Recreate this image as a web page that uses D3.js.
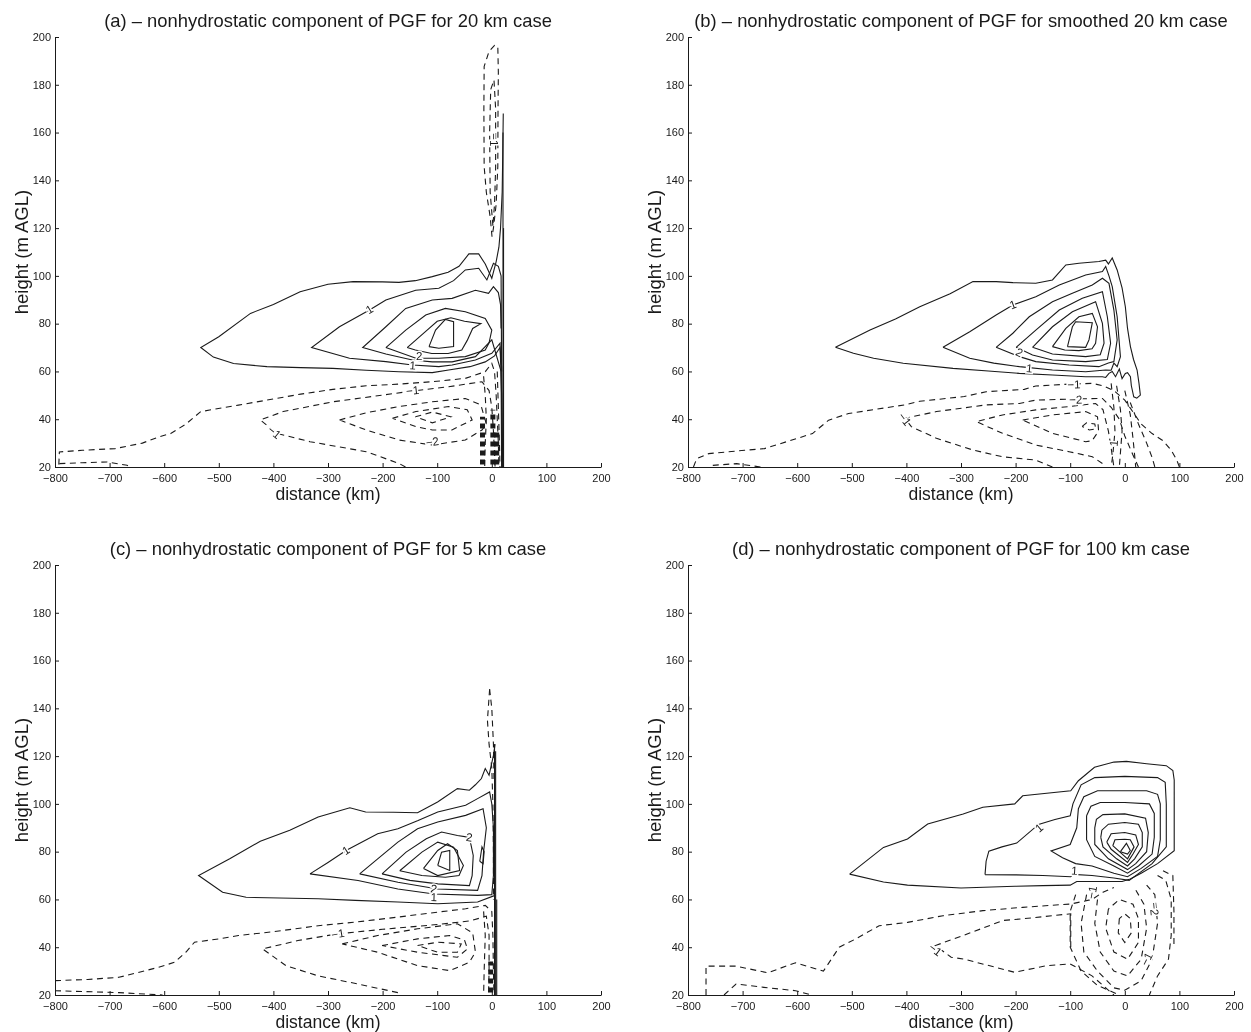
<!DOCTYPE html>
<html><head><meta charset="utf-8">
<script src="https://cdn.jsdelivr.net/npm/d3@7"></script>
<style>
body{margin:0;background:#fff;}
svg{display:block;font-family:"Liberation Sans",Arial,Helvetica,sans-serif;filter:grayscale(1);}
</style></head><body><svg id="fig" width="1251" height="1032"></svg>
<script>
// axis ticks shared by the four panels
const X_TICKS = [-800,-700,-600,-500,-400,-300,-200,-100,0,100,200];
const Y_TICKS = [20,40,60,80,100,120,140,160,180,200];

// ---------- (a) 20 km case : contours of the nonhydrostatic PGF ----------
const A_solid = [
  [[20,20],[19,40],[18,62],[15,70],[5,66.5],[-12,64],[-40,62],[-79,60.6],[-109,59.5],[-170,59.9],[-230,60.5],[-291,61.3],[-350,61.6],[-412,62],[-473,63.3],[-510,66],[-533,70],[-500,74.5],[-442,84.3],[-400,88],[-351,93.4],[-300,96.5],[-254,97.6],[-200,97.5],[-170,97.3],[-140,98],[-109,99.7],[-80,101.5],[-60,104],[-42,109.2],[-24,109.2],[-12,105],[0,99],[8,106],[13,112],[16,120],[19,135],[20,150],[21,168]],
  [[19,20],[18,50],[15,71.8],[0,67.6],[-30,64.8],[-72.7,62.7],[-97,62],[-145.5,62.7],[-194,64.1],[-260.6,65.5],[-330,70],[-279,78.7],[-224,85.7],[-194,89.9],[-139.4,94],[-97,94.8],[-70,98],[-48.5,102.5],[-24,103.2],[-9,98.3],[3,105.3],[12,104],[17,100],[18,60]],
  [[18,20],[17,60],[0,73.2],[-30,66.2],[-72.7,64],[-109,64],[-145.5,64.8],[-194,67.3],[-236.4,70],[-194,78.7],[-157.6,86.4],[-109,89.9],[-72.7,90.6],[-30,94],[-6,92.7],[3,95.5],[12,93],[16,88],[17,78]],
  [[-194,70],[-157.6,77.3],[-121,83.6],[-85,86.4],[-48.5,85],[-12,82.2],[0,77.3],[-5,72],[-12,69],[-48.5,66.2],[-97,65.5],[-139,65.5],[-194,70]],
  [[-155,70],[-120,77],[-100,81],[-75,82.5],[-50,81],[-20,80],[-35,78],[-45,73],[-55,69],[-80,67.5],[-110,67.5],[-140,69],[-155,70]],
  [[-115,70.4],[-103,77.3],[-85,81.8],[-70,80.8],[-70,70.4],[-97,69.7],[-115,70.4]],
  [[20.5,20],[20.5,160]],
  [[21.5,20],[21.5,120]]
];
const A_dashed = [
  [[-792,21.4],[-750,21.8],[-705,22.1],[-668,20.7],[-660,20]],
  [[-793,21],[-792,26.3],[-750,27],[-690,27.7],[-640,30],[-610,32.6],[-588,34],[-560,38],[-533,43.2],[-464,45.9],[-412,48],[-350,50.5],[-291,52.5],[-230,54],[-170,54.7],[-109,55.7],[-48.5,57.1],[-12,59.9],[0,63.4],[5,60],[8,50],[10,40],[12,30],[13,20]],
  [[-158,20],[-170,21.5],[-230,26.4],[-333,30.6],[-394,34.1],[-424,39.7],[-382,43.2],[-291,47.3],[-200,50.1],[-145.5,51.8],[-79,53.6],[-18,55.7],[-5,52],[0,45],[3,35],[5,25],[6,20]],
  [[-279,39.7],[-230,42.7],[-170,45.3],[-109,47.3],[-48.5,48.7],[-20,46],[-10,38],[-18,35.5],[-48.5,31.3],[-109,29.2],[-170,31.3],[-230,35.5],[-279,39.7]],
  [[-182,40.4],[-139,43.2],[-79,45.3],[-45,44],[-36,39.7],[-73,35.5],[-109,35.5],[-139,36.9],[-182,40.4]],
  [[-140,41],[-109,43],[-75,41],[-109,38.5],[-140,41]],
  [[-15,58],[-12,50],[-10,40],[-12,30],[-13,20]],
  [[10,60],[12,45],[14,30],[15,20]],
  [[0.4,116.4],[-3,124.8],[-10,135],[-14,145.8],[-14.5,170],[-14,187.7],[-5,194],[5,196.5],[11,196],[12,185],[11.4,170],[11,145.8],[8,130],[3,120],[0.4,116.4]],
  [[2,121],[-3,135],[-4,160],[-2,178],[4,182],[7,170],[7,145],[5,130],[2,121]]
];
// tightly packed contours next to the boundary, drawn as heavy dashes
const A_dense = [
  [[-17,21],[-17,41]],
  [[2,21],[2,44]],
  [[9,21],[9,36]]
];
const A_labels = [[-224,86,"1"],[-145,62.5,"1"],[-133,66.5,"2"],[-145,52,"-1"],[-398,34.5,"-1"],[-109,30.6,"-2"],[4,157,"-1"]];

// ---------- (b) smoothed 20 km case ----------
const B_solid = [
  [[-530,70.1],[-466.6,77.3],[-420,82],[-375.5,87.1],[-320,92.5],[-278,97.6],[-235.7,97.6],[-205,97.2],[-163,96.9],[-132.5,98.3],[-108,104.6],[-84,105.3],[-47.4,106],[-35,106.6],[-30,105],[-23,107.5],[-14,102.5],[-5,95],[1,87.1],[5,78],[10.3,70.4],[16,65],[22.5,60.6],[26,55],[28.5,50.1],[22,48.8],[16.4,49.4],[12,54],[10.3,57.8],[5,59.5],[1,59.2],[-5,57],[-10,61],[-17,57.8],[-23,60],[-29,59.2],[-35,57.5],[-41,57.8],[-71.7,57.8],[-132.5,58.5],[-193.2,59.2],[-250,60.2],[-314.7,61.3],[-405.8,63.4],[-460,65.5],[-497,67.6],[-530,70.1]],
  [[-333,70.1],[-284,76.6],[-235.7,83.6],[-205,87.8],[-163,91.3],[-120,96.2],[-71.7,100.4],[-41,101.8],[-35,103.9],[-29,100],[-23,95.5],[-14,82.9],[-8,66.2],[-14,62],[-20,63.5],[-25,60.5],[-35,60.6],[-71.7,59.9],[-132.5,60.6],[-193,62],[-240,63.5],[-284,65.5],[-333,70.1]],
  [[-235.7,70.1],[-205,76],[-175,82.9],[-132.5,89.2],[-96,92.7],[-59.5,96.2],[-41,99],[-29,96.9],[-20,85.7],[-14,73.2],[-20,64.1],[-30,63.5],[-47.4,62],[-102,62.7],[-163,64.1],[-193,66.2],[-235.7,70.1]],
  [[-199,70.1],[-163,77.3],[-120,85.7],[-77.8,90.6],[-41,93.4],[-32,82.9],[-26,71.8],[-32,65],[-71.7,64.1],[-132.5,64.8],[-169,66.9],[-199,70.1]],
  [[-169,70.1],[-132.5,78.7],[-96,85],[-53.5,89.2],[-41,80.1],[-38,71.8],[-45,67],[-71.7,66.2],[-132.5,67.3],[-169,70.1]],
  [[-132.5,70.4],[-108,78],[-84,82.9],[-59.5,84.3],[-50,78.7],[-53.5,71.8],[-60,69.5],[-84,68.7],[-110,69],[-132.5,70.4]],
  [[-105,70.4],[-96,78.7],[-90,80.8],[-59.5,80.4],[-65.6,73.2],[-71.7,70.1],[-105,70.4]]
];
const B_dashed = [
  [[-754.6,20.7],[-711,21.4],[-667,20]],
  [[-790,20],[-784,23.5],[-762,25.6],[-696,27],[-660,27.7],[-601,31.9],[-572,34],[-542.5,39.6],[-506,42.4],[-460,44],[-403.5,46],[-375.5,47.5],[-294,49.5],[-254,51.5],[-184,52.5],[-163,53.9],[-102,54.7],[-59.5,55],[-40,54],[-20,52],[0,48],[15,43],[30,38],[50,34],[70,31],[85,27],[95,23],[100,20]],
  [[-132.5,20],[-163,22.9],[-224,24.3],[-278,27.1],[-345,32],[-391,36.9],[-402.8,40.4],[-345,43.2],[-254,46],[-193,46.6],[-163,48],[-90,48.5],[-41,48.7],[-25,45],[-10,40],[0,33],[15,25],[25,20]],
  [[-41,21.5],[-59.5,24.3],[-102,26.4],[-163,29.2],[-224,34.1],[-272,39],[-224,41.8],[-163,43.9],[-102,45.3],[-53.5,46.6],[-40,44],[-30,35],[-25,28],[-20,20]],
  [[-187,39.7],[-132.5,41.8],[-71.7,43.2],[-50,41],[-48,35],[-60,31],[-71.7,30.6],[-132.5,34.1],[-187,39.7]],
  [[-78,37],[-70,38.5],[-55,38],[-53,36],[-65,35.5],[-78,37]],
  [[-25,55],[-20,45],[-18,35],[-22,25],[-25,20]],
  [[-15,54],[-8,44],[-5,35],[-8,26],[-10,20]],
  [[0,52],[10,42],[15,32],[18,25],[20,20]],
  [[10,47],[25,38],[40,30],[50,24],[55,20]]
];
const B_dense = [];
const B_labels = [[-205,88,"1"],[-193,68,"2"],[-175,61.3,"1"],[-93,54.5,"-1"],[-90,48.2,"-2"],[-403,40,"-1"],[-20,30,"1"]];

// ---------- (c) 5 km case ----------
const C_solid = [
  [[6,61.7],[-26,58.9],[-99,58.2],[-172,58.9],[-250,59.6],[-318,60.3],[-450,60.9],[-493,63],[-537,70],[-480,77],[-424,84.4],[-370,89],[-318,94.5],[-260,98.4],[-231,96.6],[-180,96.5],[-136,96.3],[-99.3,100.8],[-63,106.4],[-41,105.7],[-30,108],[-19,110.6],[-12,114.8],[-5,112],[3,120.3],[6,125]],
  [[-333,70.7],[-300,75.5],[-267,80.5],[-209,87.5],[-172,89.6],[-135,93],[-99,96.6],[-48,99.4],[-26,102.2],[-4,105],[0,100],[3,90],[3,70],[0,62],[-26,61.7],[-106,62.3],[-172,64.4],[-245,67.9],[-333,70.7]],
  [[-242,70.7],[-209,77],[-172,84],[-136,89.6],[-99,92.4],[-48,95.2],[-16,98],[-10,90],[-15,80],[-18,70],[-26,63.8],[-99,64.4],[-172,67.2],[-242,70.7]],
  [[-201,70.7],[-157,79.8],[-120,85.4],[-92,88.2],[-63,86.8],[-41,86],[-34,78.4],[-36,70],[-41,65.8],[-99,66.5],[-150,68],[-201,70.7]],
  [[-168.6,72],[-128,79.8],[-99,84],[-70,81.9],[-52,74.2],[-60,70],[-85,69.3],[-128,70],[-168.6,72]],
  [[-125,73],[-99,80.5],[-81,83.3],[-63,80.5],[-59,72.1],[-99,70],[-125,73]],
  [[-99,74.2],[-92,79.8],[-77,80.5],[-77,72.1],[-99,74.2]],
  [[-22,76],[-18,82],[-14,80],[-16,75],[-22,76]],
  [[5,20],[5,125]],[[7,20],[7,122]],[[9,20],[9,60]]
];
const C_dashed = [
  [[-800,21.8],[-683,21],[-603,20]],
  [[-800,26],[-740,26.5],[-683,27.4],[-610,31.6],[-581,33.7],[-560,38],[-544.5,42.1],[-500,43.5],[-464,44.9],[-400,46.5],[-318,49],[-250,50.5],[-172,52.6],[-99,54.7],[-48,56.1],[-12,57.5],[0,55],[2,45],[3,30],[4,20]],
  [[-172,21],[-245,24.6],[-318,28],[-377,32.3],[-420,39.3],[-355,42.8],[-282,45.6],[-200,47.5],[-100,49.5],[-40,51],[-10,53],[-5,45],[-5,30],[-6,20]],
  [[-274,41.4],[-209,44.9],[-136,47.7],[-63,49.8],[-35,46],[-30,38],[-41,33.7],[-77,30.2],[-136,32.3],[-209,37.9],[-274,41.4]],
  [[-201,40.7],[-136,43.5],[-77,44.9],[-50,43],[-44.5,39.3],[-63,35.8],[-136,37.9],[-201,40.7]],
  [[-136,40.7],[-99,42.1],[-56,41.4],[-63,37.9],[-99,37.9],[-136,40.7]],
  [[-15,55],[-12,45],[-14,30],[-15,20]],
  [[-4,148],[-8,135],[-5,125],[0,115],[2,100],[3,80],[3,60]],
  [[-4,148],[0,140],[3,125],[4,110]]
];
const C_dense = [
  [[-2,21],[-2,34]]
];
const C_labels = [[-267,80.5,"1"],[-41,86,"2"],[-106,64.5,"2"],[-106,61,"1"],[-282,45.6,"-1"]];

// ---------- (d) 100 km case ----------
const D_solid = [
  [[-504,70.6],[-442,81.8],[-398,85.3],[-361,91.6],[-296,95.8],[-260,98.6],[-201.5,100],[-187,103.4],[-99,105.5],[-85,109.7],[-55.5,115.3],[-20,117.5],[3,117.8],[40,116.8],[76,116],[88,114],[90.5,110],[90.5,80.4],[60,75],[30,71],[10,68.6],[-5,67.5],[-30,67.5],[-60,67.5],[-88,67.5],[-100,66],[-150,65.8],[-201,65.5],[-300,64.8],[-398,66],[-442,67.3],[-504,70.6]],
  [[-256,70.4],[-254,76],[-249,80.2],[-225,82],[-198,83.6],[-158,91.4],[-128,93.5],[-100,95],[-95,100],[-80,108],[-55,111],[0,111.5],[60,111],[74,109],[76,100],[76,82],[50,75],[8,68],[-20,69],[-60,70],[-95,70.5],[-99,69.5],[-150,70],[-200,70.3],[-256,70.4]],
  [[-85,98],[-88,90],[-100,83],[-135,80.3],[-114,77.5],[-90,75],[-60,74],[-20,71],[5,69.5],[30,73],[60,78],[65,85],[65,100],[60,104],[40,105.5],[0,105.5],[-50,105.5],[-75,103],[-85,98]],
  [[-70,95],[-70,85],[-55,78],[-20,74],[5,71],[25,74],[50,79],[54,86],[54,96],[45,100],[0,100.6],[-45,100.6],[-62,99],[-70,95]],
  [[-55,90],[-55,83],[-30,77],[5,72.5],[20,75],[40,80],[43,88],[38,94],[0,95.8],[-40,95.5],[-52,93.5],[-55,90]],
  [[-44,86],[-40,82],[-15,77],[5,74],[18,77],[32,82],[32,88],[25,91.5],[0,92.2],[-30,91.5],[-42,89],[-44,86]],
  [[-33,84],[-25,81],[5,75.5],[15,79],[25,83],[20,87],[0,88],[-25,87.5],[-33,84]],
  [[-22,82.5],[5,77],[17,82],[10,85],[0,85.2],[-18,85],[-22,82.5]],
  [[-8,80],[5,79],[10,80.5],[3,83.5],[-8,80]],
  [[-799,122],[-799,145]]
];
const D_dashed = [
  [[-767,20],[-767,32.1],[-712,32.1],[-654,29.3],[-603,33.5],[-552,30],[-523,40],[-493.4,43.4],[-450,49],[-398,50.4],[-333,53.2],[-260,55.3],[-187,56.7],[-99,58.1],[-60,60],[-40,63],[-20,65]],
  [[-734,20],[-712,24.6],[-661,23.2],[-603,21.8],[-574,20]],
  [[-99,40],[-99,54],[-187,51.9],[-223,51.2],[-296,44.9],[-347,40.7],[-318,35.8],[-296,35.1],[-201.5,29.5],[-143,32.3],[-100,33],[-60,28],[-20,20]],
  [[-90,62],[-100,55],[-100,40],[-80,30],[-50,24],[-10,20]],
  [[-70,62],[-80,50],[-75,38],[-50,30],[-20,23],[0,22],[30,26],[50,35],[60,50],[55,62],[40,66]],
  [[-50,60],[-55,50],[-45,38],[-20,30],[5,28],[30,35],[40,48],[35,58],[20,64]],
  [[-30,56],[-35,48],[-20,38],[5,35],[25,42],[25,52],[15,58],[-10,60],[-30,56]],
  [[-10,52],[-12,46],[0,42],[12,46],[10,52],[0,54],[-10,52]],
  [[60,70],[75,68],[85,60],[85,45],[80,35],[60,28],[45,20]],
  [[70,72],[88,70],[90,55],[90,40]]
];
const D_dense = [];
const D_labels = [[-157,90,"1"],[-92,72,"1"],[-347,39,"-1"],[-60,63,"-1"],[54,56,"-2"],[40,35,"-1"]];

// panel layout
const W = 546, H = 430;
const panels = [
  {title:"(a) \u2013 nonhydrostatic component of PGF for 20 km case", solid:A_solid, dashed:A_dashed, dense:A_dense, labels:A_labels, left:55, top:37},
  {title:"(b) \u2013 nonhydrostatic component of PGF for smoothed 20 km case", solid:B_solid, dashed:B_dashed, dense:B_dense, labels:B_labels, left:688, top:37},
  {title:"(c) \u2013 nonhydrostatic component of PGF for 5 km case", solid:C_solid, dashed:C_dashed, dense:C_dense, labels:C_labels, left:55, top:565},
  {title:"(d) \u2013 nonhydrostatic component of PGF for 100 km case", solid:D_solid, dashed:D_dashed, dense:D_dense, labels:D_labels, left:688, top:565}
];

const svg = d3.select("#fig");
const INK = "#1a1a1a";

panels.forEach(p => {
  const x = d3.scaleLinear().domain([-800,200]).range([0,W]);
  const y = d3.scaleLinear().domain([20,200]).range([H,0]);
  const g = svg.append("g").attr("transform",`translate(${p.left},${p.top})`);
  const line = d3.line().x(d=>x(d[0])).y(d=>y(d[1]));

  const cl = g.append("g").attr("fill","none").attr("stroke",INK).attr("stroke-width",1.1);
  cl.selectAll("path.s").data(p.solid).join("path").attr("class","s").attr("d",line);
  cl.selectAll("path.d").data(p.dashed).join("path").attr("class","d").attr("d",line)
    .attr("stroke-dasharray","6,4.5");
  cl.selectAll("path.k").data(p.dense).join("path").attr("class","k").attr("d",line)
    .attr("stroke-width",5).attr("stroke-dasharray","5,4");

  // contour labels, aligned with the nearest contour segment
  const segs = [];
  p.solid.concat(p.dashed).forEach(c => {
    for (let i=1;i<c.length;i++) segs.push([x(c[i-1][0]),y(c[i-1][1]),x(c[i][0]),y(c[i][1])]);
  });
  p.labels.forEach(([lx,ly,t]) => {
    const px = x(lx), py = y(ly);
    let best=null, bd=Infinity;
    segs.forEach(s => {
      const dx=s[2]-s[0], dy=s[3]-s[1], L=dx*dx+dy*dy||1;
      let u=((px-s[0])*dx+(py-s[1])*dy)/L; u=Math.max(0,Math.min(1,u));
      const qx=s[0]+u*dx-px, qy=s[1]+u*dy-py, d=qx*qx+qy*qy;
      if(d<bd){bd=d;best=s;}
    });
    let ang = best ? Math.atan2(best[3]-best[1],best[2]-best[0])*180/Math.PI : 0;
    if (ang>90) ang-=180; if (ang<-90) ang+=180;
    g.append("text").attr("transform",`translate(${px},${py}) rotate(${ang})`)
      .attr("text-anchor","middle").attr("dy","0.35em")
      .attr("font-size",11.5).attr("fill",INK)
      .attr("stroke","#fff").attr("stroke-width",3).attr("paint-order","stroke")
      .text(t.replace("-","\u2212"));
  });

  const ax = g.append("g").attr("transform",`translate(0,${H})`)
    .call(d3.axisBottom(x).tickValues(X_TICKS).tickSizeInner(-4).tickSizeOuter(0).tickPadding(7));
  const ay = g.append("g")
    .call(d3.axisLeft(y).tickValues(Y_TICKS).tickSizeInner(-4).tickSizeOuter(0).tickPadding(4));
  [ax,ay].forEach(a => {
    a.selectAll("text").attr("font-size",11).attr("fill",INK).attr("font-family","Liberation Sans, Arial, sans-serif");
    a.selectAll("line,path").attr("stroke",INK);
  });
  ay.selectAll(".tick text").attr("dy","0.3em");

  g.append("text").attr("x",W/2).attr("y",-10).attr("text-anchor","middle")
    .attr("font-size",18.4).attr("fill",INK).text(p.title);
  g.append("text").attr("x",W/2).attr("y",H+33).attr("text-anchor","middle")
    .attr("font-size",17.5).attr("fill",INK).text("distance (km)");
  g.append("text").attr("transform",`translate(-27,${H/2}) rotate(-90)`).attr("text-anchor","middle")
    .attr("font-size",18.5).attr("fill",INK).text("height (m AGL)");
});
</script></body></html>
